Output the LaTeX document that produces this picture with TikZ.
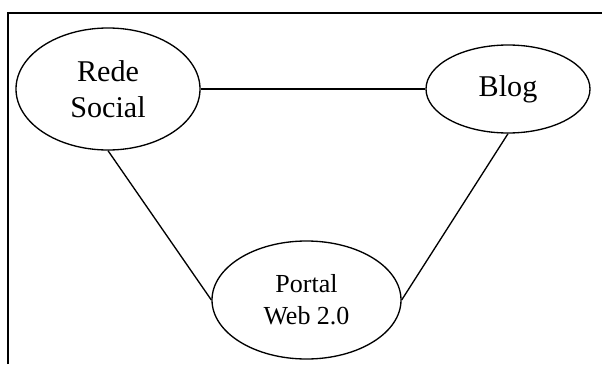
\documentclass[tikz,border=0pt]{standalone}
\usepackage{fontspec}
\setmainfont{Liberation Serif}
\usetikzlibrary{shapes.geometric}
\tikzset{
  bubble/.style={draw, ellipse, line width=1pt, inner sep=0pt, align=center},
  bigtext/.style={font=\fontsize{22.6}{27}\selectfont},
  smalltext/.style={font=\fontsize{19.5}{24}\selectfont}
}
\begin{document}
\begin{tikzpicture}[x=0.75pt, y=-0.75pt]
			\useasboundingbox (0,0) rectangle (602,364);
			\draw [line width=1.3pt] (8,364) -- (8,12.7) -- (602,12.7);
			\node [bubble, bigtext, minimum width=138pt, minimum height=91.5pt] (rede) at (108,89) {Rede\\Social};
			\node [bubble, bigtext, minimum width=123pt, minimum height=66pt] (blog) at (508,89) {Blog};
			\node [bubble, smalltext, minimum width=141.75pt, minimum height=88.5pt] (portal) at (306.5,300) {Portal\\Web 2.0};
			\draw [line width=1pt] (rede.east) -- (blog.west);
			\draw [line width=1pt] (rede.south) -- (portal.west);
			\draw [line width=1pt] (blog.south) -- (portal.east);
		\end{tikzpicture}
\end{document}
